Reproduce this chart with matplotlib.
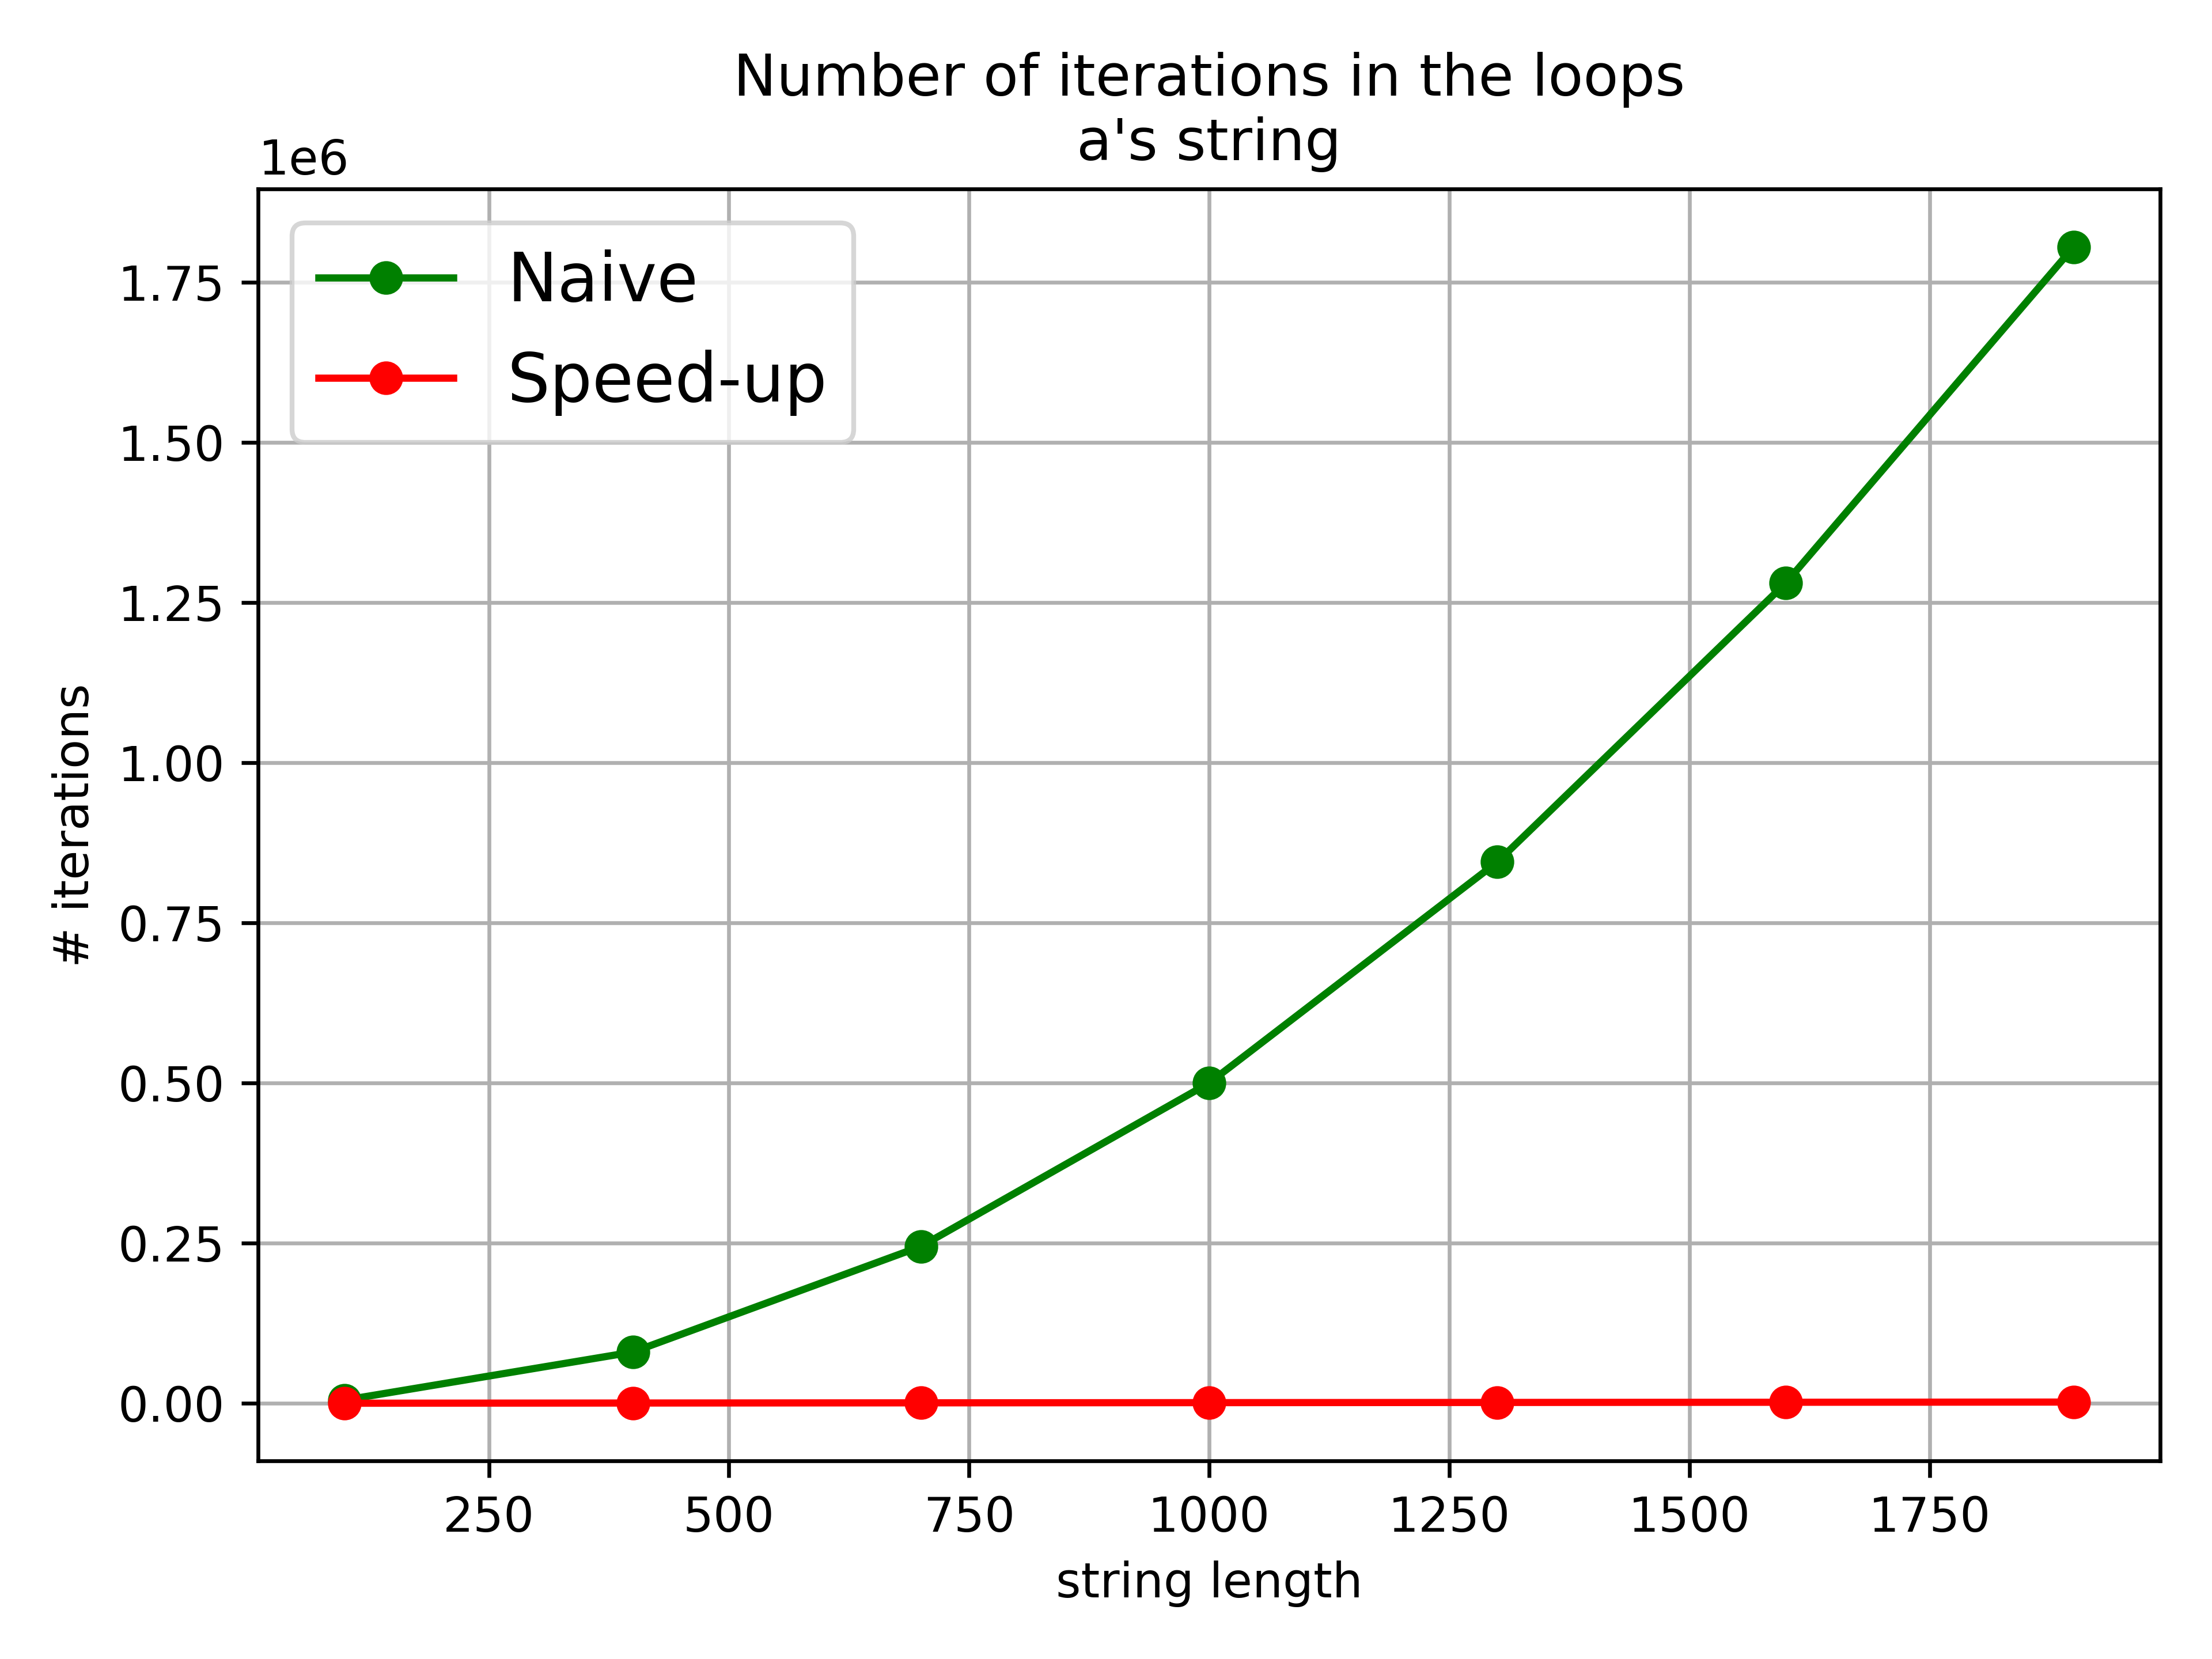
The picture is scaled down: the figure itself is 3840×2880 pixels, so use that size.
import matplotlib
matplotlib.use("Agg")
import matplotlib.pyplot as plt

# string lengths tested
lengths = [100, 400, 700, 1000, 1300, 1600, 1900]

# iterations counted in each version
naive_iters = [5000, 80000, 245000, 500000, 845000, 1280000, 1805000]
speedup_iters = [100, 400, 700, 1000, 1300, 1600, 1900]

fig, ax = plt.subplots(figsize=(6.4, 4.8), dpi=600)
ax.plot(lengths, naive_iters, "o-", color="green", label="Naive")
ax.plot(lengths, speedup_iters, "o-", color="red", label="Speed-up")
ax.set_title("Number of iterations in the loops\na's string")
ax.set_xlabel("string length")
ax.set_ylabel("# iterations")
ax.grid(True)
ax.legend(fontsize=14)
fig.tight_layout()
fig.savefig("out.png")
